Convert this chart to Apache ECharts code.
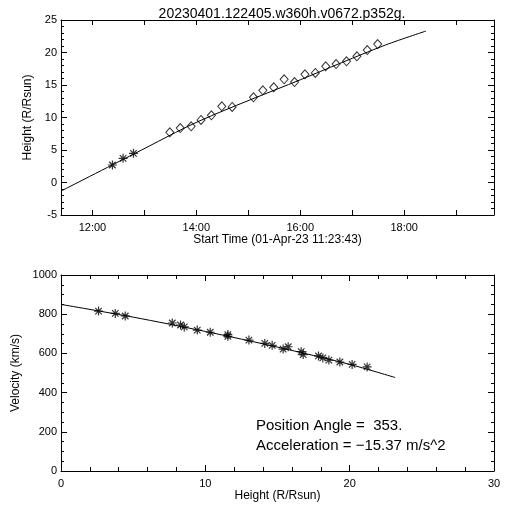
<!DOCTYPE html>
<html><head><meta charset="utf-8">
<script src="https://cdn.jsdelivr.net/npm/echarts@6/dist/echarts.min.js"></script>
<style>html,body{margin:0;padding:0;background:#fff}#c{width:512px;height:512px}</style>
</head><body><div id="c"></div>
<script>
// ---- data ----
const titleText = "20230401.122405.w360h.v0672.p352g.";
// top panel: time in decimal hours (01-Apr-23), height in R/Rsun
const starTimes = [12.385, 12.59, 12.79];
const starHeights = [2.69, 3.72, 4.49];
const diamondTimes = [13.49, 13.69, 13.90, 14.09, 14.29, 14.49, 14.69, 15.10, 15.28, 15.49, 15.69, 15.89, 16.09, 16.29, 16.49, 16.69, 16.89, 17.09, 17.29, 17.49];
const diamondHeights = [7.72, 8.38, 8.65, 9.62, 10.34, 11.72, 11.62, 13.10, 14.18, 14.64, 15.87, 15.46, 16.64, 16.85, 17.87, 18.23, 18.64, 19.41, 20.38, 21.30];
const fitTimes = [11.41, 12.8, 14.07, 16.0, 17.59, 18.42];
const fitHeights = [-1.26, 4.4, 9.5, 15.8, 21.0, 23.3];
const timeMin = 11 + 23/60 + 43/3600;   // start time 11:23:43
const timeMax = timeMin + 8 + 20/60;
const timeTicks = [12, 13, 14, 15, 16, 17, 18, 19];
const timeLabels = [12, 14, 16, 18];
// bottom panel: height (R/Rsun) vs velocity (km/s)
const velHeights = [2.60, 3.76, 4.45, 7.71, 8.28, 8.54, 9.44, 10.34, 11.56, 11.56, 13.02, 14.12, 14.63, 15.39, 15.74, 16.64, 16.78, 17.84, 18.14, 18.56, 19.32, 20.17, 21.21];
const velValues = [816, 804, 791, 755, 745, 735, 719, 708, 696, 687, 668, 651, 641, 622, 634, 609, 594, 587, 577, 566, 556, 544, 531];
const velFitHeights = [0, 5, 10, 15, 20, 23.15];
const velFitValues = [850, 785, 712, 632, 544, 477];
const paText = "Position Angle =\u00a0\u00a0353.";
const accText = "Acceleration = \u221215.37 m/s^2";

const FONT = "Liberation Sans";
const star = "path://M0,-5L0,5M-5,0L5,0M-3.6,-3.6L3.6,3.6M-3.6,3.6L3.6,-3.6";
const zip = (a, b) => a.map((v, i) => [v, b[i]]);
const hh = v => (v < 10 ? "0" : "") + Math.round(v) + ":00";
const plain = v => String(Math.round(v));

function boxAxis(base, extra) {
  return Object.assign({
    axisLine: {show: true, onZero: false, lineStyle: {color: "#000", width: 1}},
    axisTick: {show: true, inside: true, length: 6, lineStyle: {color: "#000"}},
    minorTick: {show: true, length: 3, lineStyle: {color: "#000"}},
    splitLine: {show: false},
    axisLabel: {color: "#000", fontFamily: FONT, fontSize: 11},
    nameTextStyle: {color: "#000", fontFamily: FONT, fontSize: 12}
  }, base, extra || {});
}

const chart = echarts.init(document.getElementById("c"), null, {renderer: "canvas"});
const option = {
  backgroundColor: "#fff",
  animation: false,
  title: {text: titleText, left: 277, top: 2, textAlign: "center",
    textStyle: {fontFamily: FONT, fontSize: 14, fontWeight: "normal", color: "#000"}},
  grid: [
    {left: 61, top: 20, width: 433, height: 195},
    {left: 61, top: 275, width: 433, height: 196}
  ],
  xAxis: [
    boxAxis({type: "value", gridIndex: 0, position: "bottom", min: timeMin, max: timeMax,
      name: "Start Time (01-Apr-23 11:23:43)", nameLocation: "middle", nameGap: 19}, {
      axisTick: {show: true, inside: true, length: 5, customValues: timeTicks, lineStyle: {color: "#000"}},
      minorTick: {show: false},
      axisLabel: {color: "#000", fontFamily: FONT, fontSize: 11, margin: 7, customValues: timeLabels, formatter: hh}
    }),
    boxAxis({type: "value", gridIndex: 0, position: "top", min: timeMin, max: timeMax}, {
      axisTick: {show: true, inside: true, length: 5, customValues: timeTicks, lineStyle: {color: "#000"}},
      minorTick: {show: false},
      axisLabel: {show: false}
    }),
    boxAxis({type: "value", gridIndex: 1, position: "bottom", min: 0, max: 30, interval: 10,
      name: "Height (R/Rsun)", nameLocation: "middle", nameGap: 18,
      minorTick: {show: true, splitNumber: 5, length: 4, lineStyle: {color: "#000"}}}, {
      axisLabel: {color: "#000", fontFamily: FONT, fontSize: 11, margin: 7, formatter: plain}
    }),
    boxAxis({type: "value", gridIndex: 1, position: "top", min: 0, max: 30, interval: 10,
      minorTick: {show: true, splitNumber: 5, length: 4, lineStyle: {color: "#000"}}}, {
      axisLabel: {show: false}
    })
  ],
  yAxis: [
    boxAxis({type: "value", gridIndex: 0, position: "left", min: -5, max: 25, interval: 5,
      name: "Height (R/Rsun)", nameLocation: "middle", nameGap: 22,
      minorTick: {show: true, splitNumber: 5, length: 3, lineStyle: {color: "#000"}}}, {
      axisLabel: {color: "#000", fontFamily: FONT, fontSize: 11, margin: 4, formatter: plain}
    }),
    boxAxis({type: "value", gridIndex: 0, position: "right", min: -5, max: 25, interval: 5,
      minorTick: {show: true, splitNumber: 5, length: 3, lineStyle: {color: "#000"}}}, {
      axisLabel: {show: false}
    }),
    boxAxis({type: "value", gridIndex: 1, position: "left", min: 0, max: 1000, interval: 200,
      name: "Velocity (km/s)", nameLocation: "middle", nameGap: 30,
      minorTick: {show: true, splitNumber: 4, length: 3, lineStyle: {color: "#000"}}}, {
      axisLabel: {color: "#000", fontFamily: FONT, fontSize: 11, margin: 4, formatter: plain}
    }),
    boxAxis({type: "value", gridIndex: 1, position: "right", min: 0, max: 1000, interval: 200,
      minorTick: {show: true, splitNumber: 4, length: 3, lineStyle: {color: "#000"}}}, {
      axisLabel: {show: false}
    })
  ],
  series: [
    {type: "line", xAxisIndex: 0, yAxisIndex: 0, data: zip(fitTimes, fitHeights), smooth: 0.3,
      showSymbol: false, lineStyle: {color: "#000", width: 1}, silent: true},
    {type: "scatter", xAxisIndex: 0, yAxisIndex: 0, data: zip(starTimes, starHeights), symbol: star, symbolSize: 9,
      itemStyle: {color: "rgba(0,0,0,0)", borderColor: "#000", borderWidth: 1.2}},
    {type: "scatter", xAxisIndex: 0, yAxisIndex: 0, data: zip(diamondTimes, diamondHeights), symbol: "diamond", symbolSize: [8, 9],
      itemStyle: {color: "rgba(255,255,255,0)", borderColor: "#000", borderWidth: 1}},
    {type: "line", xAxisIndex: 2, yAxisIndex: 2, data: zip(velFitHeights, velFitValues), smooth: 0.3,
      showSymbol: false, lineStyle: {color: "#000", width: 1}, silent: true},
    {type: "scatter", xAxisIndex: 2, yAxisIndex: 2, data: zip(velHeights, velValues), symbol: star, symbolSize: 9,
      itemStyle: {color: "rgba(0,0,0,0)", borderColor: "#000", borderWidth: 1.2}}
  ],
  graphic: [
    {type: "text", left: 256, top: 418, style: {text: paText, fill: "#000", font: "15px " + FONT}},
    {type: "text", left: 256, top: 438, style: {text: accText, fill: "#000", font: "15px " + FONT}}
  ]
};
chart.setOption(option);
</script></body></html>
